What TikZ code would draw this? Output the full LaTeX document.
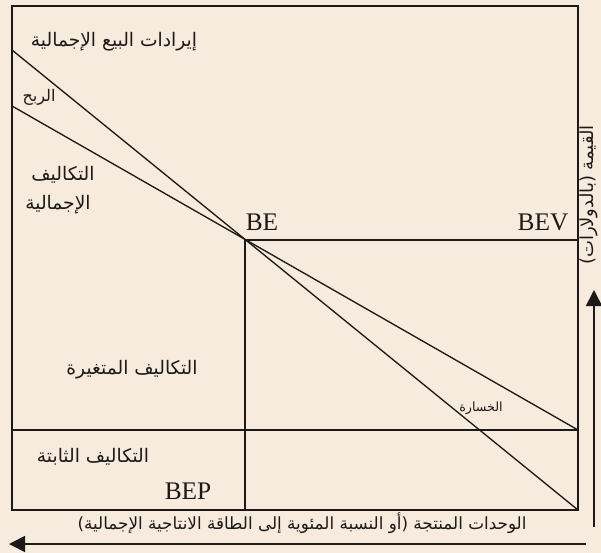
\documentclass[tikz,border=0pt]{standalone}
\usepackage{xcolor}
\usepackage{fontspec}
\usepackage{tikz}
\usetikzlibrary{arrows.meta,positioning,calc}
\setmainfont{Liberation Serif}
\newfontfamily\arabicfont[Script=Arabic]{DejaVu Sans}
\TeXXeTstate=1
\newcommand{\rtl}[1]{\beginR#1\endR}
\definecolor{ink}{HTML}{1C1A18}
\definecolor{parchment}{HTML}{F6EBDD}

\begin{document}
\begin{tikzpicture}[
  x=0.75pt, y=-0.75pt,
  arlabel/.style={font=\arabicfont\fontsize{14}{16}\selectfont, text=ink, inner sep=0pt},
  arsmall/.style={font=\arabicfont\fontsize{10.5}{12}\selectfont, text=ink, inner sep=0pt},
  axislabel/.style={font=\arabicfont\fontsize{12.6}{15}\selectfont, text=ink, inner sep=0pt},
  pointtag/.style={font=\fontsize{19}{21}\selectfont, text=ink, inner sep=0pt},
  chartline/.style={draw=ink, line width=1pt},
  axisarrow/.style={draw=ink, line width=1.2pt, -{Triangle[length=12pt, width=12pt]}}
]
% background and page size
\fill[parchment] (0,0) rectangle (601,553);
\useasboundingbox (0,0) rectangle (601,553);

% frame corners and key points
\coordinate (nw) at (12,6);
\coordinate (ne) at (578,6);
\coordinate (sw) at (12,510);
\coordinate (se) at (578,510);
\coordinate (revstart) at (12,50);
\coordinate (coststart) at (12,106);
\coordinate (costend) at (578,430);
\coordinate (fixedstart) at (12,430);
\coordinate (be) at (245,240);
\coordinate (bev) at (578,240);
\coordinate (bep) at (245,510);

\draw[chartline] (nw) rectangle (se);
\draw[chartline] (revstart) -- (se);
\draw[chartline] (coststart) -- (costend);
\draw[chartline] (fixedstart) -- (costend);
\draw[chartline] (be) -- (bev);
\draw[chartline] (be) -- (bep);

% axes
\coordinate (ybase) at (594,527);
\coordinate (ytip) at (594,290);
\coordinate (xbase) at (586,544);
\coordinate (xtip) at (9,544);
\draw[axisarrow] (ybase) -- (ytip);
\draw[axisarrow] (xbase) -- (xtip);

% labels
\node[arlabel] (revenue) at (114,42) {\rtl{إيرادات البيع الإجمالية}};
\node[arsmall, font=\arabicfont\fontsize{12}{14}\selectfont] (profit) at (39,97) {\rtl{الربح}};
\node[arlabel] (totalcost) at (63,175) {\rtl{التكاليف}};
\node[arlabel] (totalcost2) at (58,205) {\rtl{الإجمالية}};
\node[arlabel] (varcost) at (132,370) {\rtl{التكاليف المتغيرة}};
\node[arsmall, font=\arabicfont\fontsize{9.5}{11}\selectfont] (loss) at (481,408) {\rtl{الخسارة}};
\node[arlabel] (fixedcost) at (93,457) {\rtl{التكاليف الثابتة}};
\node[pointtag] (betag) at (262,222) {BE};
\node[pointtag] (bevtag) at (543,222) {BEV};
\node[pointtag] (beptag) at (188,491) {BEP};
\node[axislabel] (xlabel) at (302,523) {\rtl{الوحدات المنتجة (أو النسبة المئوية إلى الطاقة الانتاجية الإجمالية)}};
\node[arlabel, font=\arabicfont\fontsize{13.5}{16}\selectfont, rotate=90] (ylabel) at (589,195) {\rtl{القيمة (بالدولارات)}};
\end{tikzpicture}
\end{document}
